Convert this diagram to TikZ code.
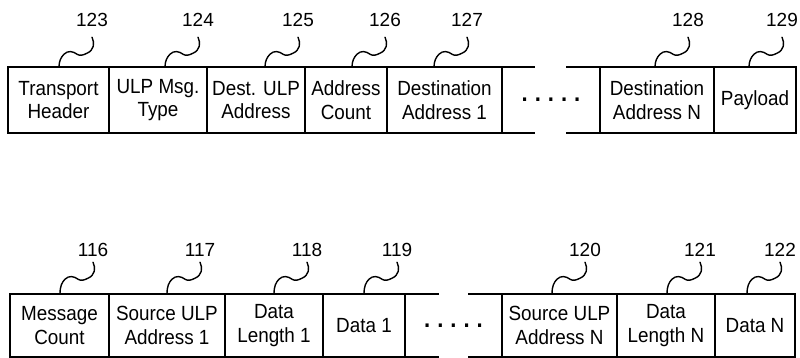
\documentclass[tikz,border=0pt]{standalone}
\usepackage{fontspec}
\setmainfont{Liberation Sans}[FakeStretch=0.92]
\newfontfamily\numfont{Liberation Sans}
\usetikzlibrary{calc}
\begin{document}
\begin{tikzpicture}[x=1pt,y=-1pt,
  edge/.style={line width=1.8pt},
  field/.style={draw, line width=1.8pt, align=center, inner sep=0pt, outer sep=0pt,
    font=\fontsize{20.5}{23.5}\selectfont},
  gapbox/.style={inner sep=0pt, outer sep=0pt, font=\bfseries\fontsize{24}{24}\selectfont},
  num/.style={font=\numfont\fontsize{19}{19}\selectfont, inner sep=0pt, text depth=#1, anchor=base},
  leaderline/.style={line width=1.4pt, line cap=round,
    to path={.. controls ($(\tikztostart)+(3,6)$) and ($(\tikztostart)+(2,13)$) .. ($(\tikztostart)+(-5,16)$)
      .. controls ($(\tikztostart)+(-9,18)$) and ($(\tikztostart)+(-12,19)$) .. ($(\tikztostart)+(-15,17)$)
      .. controls ($(\tikztostart)+(-19,14)$) and ($(\tikztostart)+(-24,13)$) .. ($(\tikztostart)+(-28,17)$)
      .. controls ($(\tikztostart)+(-31,20)$) and ($(\tikztostart)+(-33,24)$) .. (\tikztotarget)}}
]
\useasboundingbox (0,0) rectangle (800,358);

% ---------- top row ----------
\begin{scope}[every node/.append style={minimum height=66pt}]
\node[field, minimum width=101pt] (th)  at (58.5,100) {Transport\\Header};
\node[field, minimum width=98pt]  (ulp) at (158,100)  {ULP Msg.\\Type};
\node[field, minimum width=98pt]  (dua) at (256,100)  {Dest. ULP\\Address};
\node[field, minimum width=82pt]  (ac)  at (346,100)  {Address\\Count};
\node[field, minimum width=115pt] (da1) at (444.5,100){Destination\\Address 1};
\node[gapbox, minimum width=98pt] (gt)  at (551,100)  {.\hspace{7pt}.\hspace{7pt}.\hspace{7pt}.\hspace{7pt}.};
\node[field, minimum width=114pt] (dan) at (657,100)  {Destination\\Address N};
\node[field, minimum width=82pt]  (pl)  at (755,100)  {Payload};
\end{scope}
\draw[edge] (gt.north west) -- ++(33,0);
\draw[edge] (gt.north east) -- ++(-34,0);
\draw[edge] (gt.south west) -- ++(33,0);
\draw[edge] (gt.south east) -- ++(-34,0);

% ---------- bottom row ----------
\begin{scope}[every node/.append style={minimum height=63pt}]
\node[field, minimum width=99pt]  (mc)  at (59.5,325.5) {Message\\Count};
\node[field, minimum width=116pt] (sa1) at (167,325.5)  {Source ULP\\Address 1};
\node[field, minimum width=98pt]  (dl1) at (274,325.5)  {Data\\Length 1};
\node[field, minimum width=82pt]  (d1)  at (364,325.5)  {Data 1};
\node[gapbox, minimum width=97pt] (gb)  at (453.5,325.5){.\hspace{7pt}.\hspace{7pt}.\hspace{7pt}.\hspace{7pt}.};
\node[field, minimum width=115pt] (san) at (559.5,325.5){Source ULP\\Address N};
\node[field, minimum width=98pt]  (dln) at (666,325.5)  {Data\\Length N};
\node[field, minimum width=80pt]  (dn)  at (755,325.5)  {Data N};
\end{scope}
\draw[edge] (gb.north west) -- ++(34,0);
\draw[edge] (gb.north east) -- ++(-34,0);
\draw[edge] (gb.south west) -- ++(34,0);
\draw[edge] (gb.south east) -- ++(-34,0);

% ---------- reference numbers (top) ----------
\node[num=10pt] (n123) at (92,27)  {123};
\node[num=10pt] (n124) at (198,27) {124};
\node[num=10pt] (n125) at (298,27) {125};
\node[num=10pt] (n126) at (385,27) {126};
\node[num=10pt] (n127) at (467,27) {127};
\node[num=10pt] (n128) at (688,27) {128};
\node[num=10pt] (n129) at (782,27) {129};
\foreach \n/\x in {123/92,124/198,125/298,126/385,127/467,128/688,129/782}{
  \coordinate (c\n) at (\x-33,67);
  \draw[leaderline] (n\n.south) to (c\n);
}

% ---------- reference numbers (bottom) ----------
\node[num=6pt] (n116) at (93,256)  {116};
\node[num=6pt] (n117) at (200,256) {117};
\node[num=6pt] (n118) at (307,256) {118};
\node[num=6pt] (n119) at (397,256) {119};
\node[num=6pt] (n120) at (585,256) {120};
\node[num=6pt] (n121) at (700,256) {121};
\node[num=6pt] (n122) at (780,256) {122};
\foreach \n/\x in {116/93,117/200,118/307,119/397,120/585,121/700,122/780}{
  \coordinate (c\n) at (\x-33,294);
  \draw[leaderline] (n\n.south) to (c\n);
}
\end{tikzpicture}
\end{document}
